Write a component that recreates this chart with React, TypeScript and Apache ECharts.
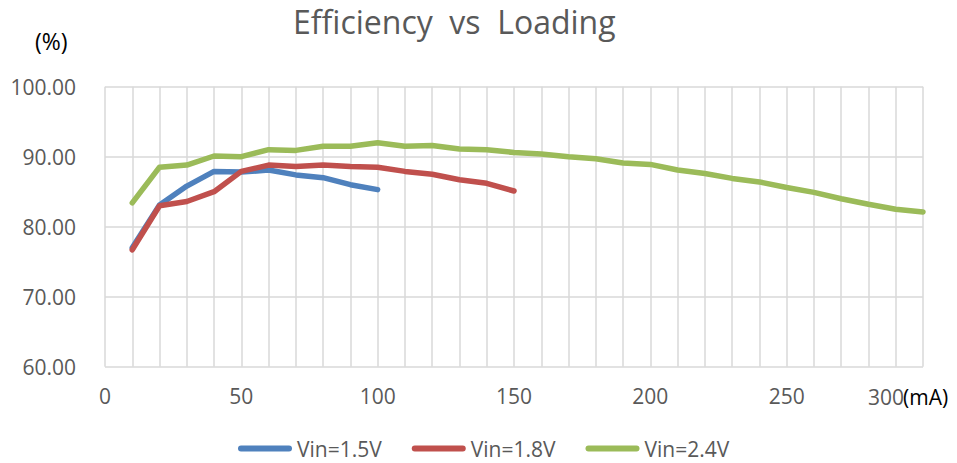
import React, { useEffect, useRef } from "react";
import * as echarts from "echarts";

const loads = [10, 20, 30, 40, 50, 60, 70, 80, 90, 100, 110, 120, 130, 140, 150, 160, 170, 180, 190, 200, 210, 220, 230, 240, 250, 260, 270, 280, 290, 300];
const vin15 = [77.0, 83.1, 85.8, 87.9, 87.8, 88.1, 87.4, 87.0, 86.0, 85.3];
const vin18 = [76.7, 83.0, 83.6, 85.0, 87.9, 88.8, 88.6, 88.8, 88.6, 88.5, 87.9, 87.5, 86.7, 86.2, 85.1];
const vin24 = [83.4, 88.5, 88.8, 90.1, 90.0, 91.0, 90.9, 91.5, 91.5, 92.0, 91.5, 91.6, 91.1, 91.0, 90.6, 90.4, 90.0, 89.7, 89.1, 88.9, 88.1, 87.6, 86.9, 86.4, 85.6, 84.9, 84.0, 83.2, 82.5, 82.1];
const seriesNames = ["Vin=1.5V", "Vin=1.8V", "Vin=2.4V"];
const seriesColors = ["#4F81BD", "#C0504D", "#9BBB59"];
const xLabels = [0, 50, 100, 150, 200, 250];

const FONT = "Open Sans";
const GREY = "#595959";

export default function App() {
  const ref = useRef<HTMLDivElement>(null);
  useEffect(() => {
    if (!ref.current) return;
    const chart = echarts.init(ref.current, null, { renderer: "svg" });
    const all = [vin15, vin18, vin24];
    const legendIcon = "path://M3,0 H51 A3,3 0 0 1 51,6 H3 A3,3 0 0 1 3,0 Z";
    chart.setOption({
      animation: false,
      backgroundColor: "#ffffff",
      textStyle: { fontFamily: FONT },
      title: {
        text: "Efficiency  vs  Loading",
        left: 288,
        top: 0,
        textStyle: { fontFamily: FONT, fontSize: 32, fontWeight: "normal", color: GREY },
      },
      legend: {
        left: 238,
        top: 438,
        padding: 0,
        itemWidth: 54,
        itemHeight: 6,
        itemGap: 30,
        textStyle: { fontFamily: FONT, fontSize: 21, color: GREY },
        data: seriesNames.map((n, i) => ({ name: n, icon: legendIcon, itemStyle: { color: seriesColors[i] } })),
      },
      grid: { left: 105, right: 34, top: 86.7, bottom: 96.3, containLabel: false },
      xAxis: {
        type: "value",
        min: 0,
        max: 300,
        interval: 10,
        axisLine: { show: false },
        axisTick: { show: false },
        splitLine: { show: true, lineStyle: { color: "#D9D9D9", width: 1.5 } },
        axisLabel: {
          margin: 19,
          fontSize: 21,
          fontFamily: FONT,
          color: GREY,
          formatter: (v: number) => (xLabels.includes(v) ? String(v) : ""),
        },
      },
      yAxis: {
        type: "value",
        min: 60,
        max: 100,
        interval: 10,
        axisLine: { show: false },
        axisTick: { show: false },
        splitLine: { show: true, lineStyle: { color: "#D9D9D9", width: 1.5 } },
        axisLabel: {
          margin: 29,
          fontSize: 21,
          fontFamily: FONT,
          color: GREY,
          formatter: (v: number) => v.toFixed(2),
        },
      },
      series: all.map((vals, i) => ({
        name: seriesNames[i],
        type: "line",
        showSymbol: false,
        symbol: "none",
        data: vals.map((v, j) => [loads[j], v]),
        lineStyle: { color: seriesColors[i], width: 5.5, cap: "round", join: "round" },
        itemStyle: { color: seriesColors[i] },
        z: 2 + i,
      })),
      graphic: [
        {
          type: "text",
          x: 35,
          y: 41,
          style: { text: "(%)", fontSize: 23, fontFamily: FONT, fill: "#000000", verticalAlign: "middle" },
        },
        {
          type: "text",
          x: 868,
          y: 397,
          style: { text: "300", fontSize: 21, fontFamily: FONT, fill: GREY, verticalAlign: "middle" },
        },
        {
          type: "text",
          x: 903,
          y: 397,
          style: { text: "(mA)", fontSize: 21, fontFamily: FONT, fill: "#000000", verticalAlign: "middle" },
        },
      ],
    });
    return () => chart.dispose();
  }, []);
  return (
    <div
      ref={ref}
      style={{ position: "fixed", left: 0, top: 0, width: 957, height: 463, background: "#fff" }}
    />
  );
}
